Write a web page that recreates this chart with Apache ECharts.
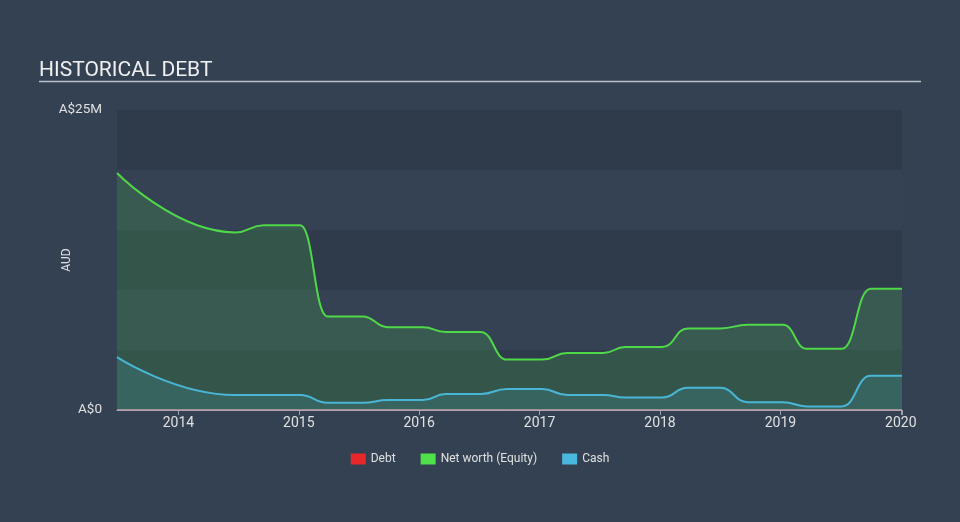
<!DOCTYPE html>
<html>
<head>
<meta charset="utf-8">
<script src="https://cdn.jsdelivr.net/npm/echarts@6/dist/echarts.min.js"></script>
<style>
html,body{margin:0;padding:0;background:#344152;}
#c{width:960px;height:522px;}
</style>
</head>
<body>
<div id="c"></div>
<script>
// Data (fractional years)
var dates = [2013.49, 2014.47, 2014.71, 2015.01, 2015.24, 2015.53, 2015.74,
  2016.03, 2016.22, 2016.51, 2016.73, 2017.02, 2017.23, 2017.53, 2017.71, 2018.02, 2018.23,
  2018.50, 2018.73, 2019.02, 2019.22, 2019.51, 2019.75, 2020.01];
var netWorth = [19.75, 14.8, 15.4, 15.4, 7.8, 7.8, 6.9,
  6.9, 6.5, 6.5, 4.2, 4.2, 4.75, 4.75, 5.25, 5.25, 6.8,
  6.8, 7.1, 7.1, 5.1, 5.1, 10.1, 10.1];
var cash = [4.4, 1.25, 1.25, 1.25, 0.6, 0.6, 0.83,
  0.83, 1.33, 1.33, 1.75, 1.75, 1.25, 1.25, 1.05, 1.05, 1.85,
  1.85, 0.65, 0.65, 0.3, 0.3, 2.85, 2.85];
var debt = [0, 0, 0, 0, 0, 0, 0, 0, 0, 0, 0, 0, 0, 0, 0, 0, 0, 0, 0, 0, 0, 0, 0, 0];
var seriesNames = ['Debt', 'Net worth (Equity)', 'Cash'];
var yTickLabels = {0: 'A$0', 25: 'A$25M'};

function pairs(vals) { return dates.map(function (d, i) { return [d, vals[i]]; }); }

var chart = echarts.init(document.getElementById('c'));
chart.setOption({
  backgroundColor: '#344152',
  textStyle: {fontFamily: 'Roboto'},
  title: {
    text: 'HISTORICAL DEBT', left: 34, top: 55,
    textStyle: {color: '#f0f0f0', fontSize: 21, fontWeight: 'normal', fontFamily: 'Roboto'}
  },
  graphic: [{
    type: 'line', shape: {x1: 39, y1: 81.5, x2: 921, y2: 81.5},
    style: {stroke: '#b9c0c9', lineWidth: 1.5}
  }],
  legend: {
    data: seriesNames, bottom: 52, left: 'center', itemWidth: 15, itemHeight: 11, itemGap: 25,
    icon: 'rect',
    textStyle: {color: '#e0e0e0', fontSize: 12}
  },
  grid: {left: 117, right: 58, top: 110, bottom: 112},
  xAxis: {
    type: 'value', min: 2013.49, max: 2020.01, splitNumber: 6,
    axisLine: {show: true, lineStyle: {color: '#9aa3b0'}},
    axisTick: {show: true, length: 5, lineStyle: {color: '#9aa3b0'}},
    axisLabel: {color: '#e0e0e0', fontSize: 14, margin: 6,
      showMinLabel: false,
      formatter: function (v) { return Math.abs(v - Math.round(v)) < 1e-6 ? String(Math.round(v)) : ''; }},
    splitLine: {show: false}
  },
  yAxis: {
    type: 'value', min: 0, max: 25, interval: 5,
    name: 'AUD', nameLocation: 'middle', nameGap: 44, nameMoveOverlap: false,
    nameTextStyle: {color: '#e0e0e0', fontSize: 12},
    axisLine: {show: false}, axisTick: {show: false},
    axisLabel: {color: '#e0e0e0', fontSize: 13.5, margin: 15,
      formatter: function (v) { return yTickLabels[v] !== undefined ? yTickLabels[v] : ''; }},
    splitLine: {show: false},
    splitArea: {show: true, areaStyle: {color: ['#2f3b4b', '#344254']}}
  },
  series: [
    {
      name: 'Net worth (Equity)', type: 'line', data: pairs(netWorth), smooth: 0.5, smoothMonotone: 'x',
      showSymbol: false, z: 2,
      itemStyle: {color: '#4fe04a'},
      lineStyle: {color: '#4fd848', width: 2},
      areaStyle: {color: 'rgba(79,216,72,0.24)'}
    },
    {
      name: 'Cash', type: 'line', data: pairs(cash), smooth: 0.5, smoothMonotone: 'x',
      showSymbol: false, z: 3,
      itemStyle: {color: '#4ab8dc'},
      lineStyle: {color: '#49b6d8', width: 2},
      areaStyle: {color: 'rgba(73,182,216,0.22)'}
    },
    {
      name: 'Debt', type: 'line', data: pairs(debt), showSymbol: false, z: 4,
      itemStyle: {color: '#e8272b'},
      lineStyle: {color: '#c7a2a8', width: 1.5}
    }
  ]
});
</script>
</body>
</html>
